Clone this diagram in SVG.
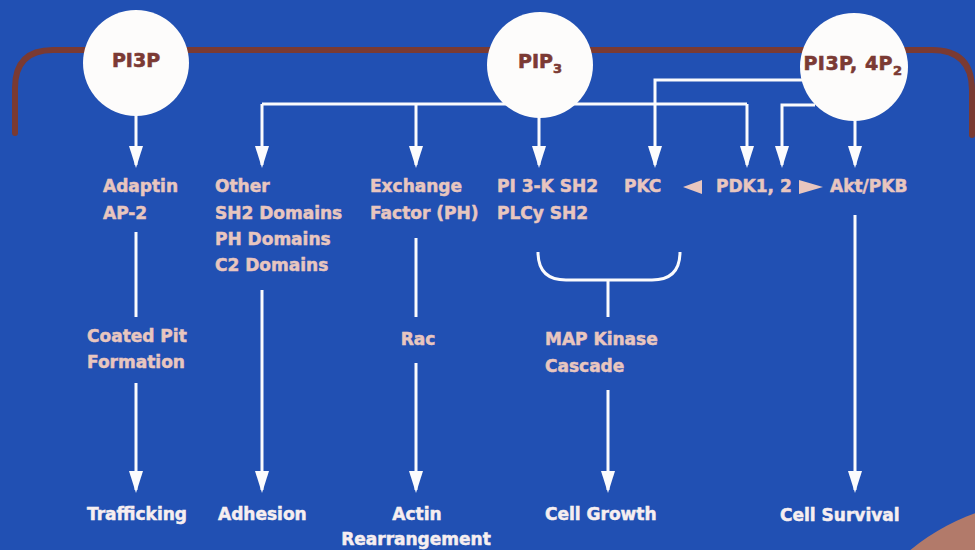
<svg xmlns="http://www.w3.org/2000/svg" width="975" height="550" viewBox="0 0 975 550">
<defs>
<style>
.bg{fill:#2150b3}
.mem{fill:none;stroke:#7a3a32;stroke-width:6;stroke-linecap:round}
.node circle{fill:#fdfcfb}
.ct{font-family:"DejaVu Sans",sans-serif;font-weight:bold;font-size:19px;fill:#7b3a34;stroke:#7b3a34;stroke-width:0.6;text-anchor:middle}
.sub{font-size:13px}
.lbl{font-family:"DejaVu Sans",sans-serif;font-weight:bold;font-size:17px;fill:#e8c6bf;stroke:#e8c6bf;stroke-width:0.5}
.out{font-family:"DejaVu Sans",sans-serif;font-weight:bold;font-size:17px;fill:#f6eef0;stroke:#f6eef0;stroke-width:0.5}
.ln{fill:none;stroke:#fbfbfd;stroke-width:3}
.ah{fill:#fbfbfd}
.tri{fill:#e8c6bf}
</style>
</defs>
<rect class="bg" x="0" y="0" width="975" height="550"/>
<circle cx="1050" cy="720" r="220" fill="#b27a6a"/>
<path class="mem" d="M15,133 V88 Q15,50 53,50 H932 Q972,50 972,90 V135"/>

<g id="connectors">
<path class="ln" d="M136,110 V165"/>
<path class="ln" d="M262,104 H747"/>
<path class="ln" d="M262,104 V165"/>
<path class="ln" d="M416,104 V165"/>
<path class="ln" d="M747,104 V165"/>
<path class="ln" d="M539,110 V165"/>
<path class="ln" d="M810,80 H655 V165"/>
<path class="ln" d="M815,105 H782 V165"/>
<path class="ln" d="M855,115 V165"/>
<path class="ln" d="M136,232 V317"/>
<path class="ln" d="M136,383 V490"/>
<path class="ln" d="M262,290 V490"/>
<path class="ln" d="M416,238 V317"/>
<path class="ln" d="M416,363 V490"/>
<path class="ln" d="M538,252 Q538,280 566,280 H652 Q680,280 680,252"/>
<path class="ln" d="M608,280 V317"/>
<path class="ln" d="M608,390 V490"/>
<path class="ln" d="M855,215 V490"/>
<g class="ah">
<polygon points="129,146 143,146 136,168"/>
<polygon points="255,146 269,146 262,168"/>
<polygon points="409,146 423,146 416,168"/>
<polygon points="532,146 546,146 539,168"/>
<polygon points="648,146 662,146 655,168"/>
<polygon points="740,146 754,146 747,168"/>
<polygon points="775,146 789,146 782,168"/>
<polygon points="848,146 862,146 855,168"/>
<polygon points="129,471 143,471 136,493"/>
<polygon points="255,471 269,471 262,493"/>
<polygon points="409,471 423,471 416,493"/>
<polygon points="601,471 615,471 608,493"/>
<polygon points="848,471 862,471 855,493"/>
</g>
</g>

<g id="pi3p" class="node"><circle cx="136" cy="63" r="53"/><text class="ct" x="136" y="67">PI3P</text></g>
<g id="pip3" class="node"><circle cx="540" cy="65" r="53"/><text class="ct" x="540" y="68">PIP<tspan class="sub" dy="5">3</tspan></text></g>
<g id="pi34p2" class="node"><circle cx="854" cy="67" r="54"/><text class="ct" x="853" y="70" letter-spacing="0.5">PI3P, 4P<tspan class="sub" dy="5">2</tspan></text></g>

<g id="adaptin"><text class="lbl" x="103" y="192">Adaptin</text><text class="lbl" x="103" y="219">AP-2</text></g>
<g id="other"><text class="lbl" x="215" y="192">Other</text><text class="lbl" x="215" y="219">SH2 Domains</text><text class="lbl" x="215" y="245">PH Domains</text><text class="lbl" x="215" y="271">C2 Domains</text></g>
<g id="exchange"><text class="lbl" x="370" y="192">Exchange</text><text class="lbl" x="370" y="219">Factor (PH)</text></g>
<g id="pi3k"><text class="lbl" x="497" y="192">PI 3-K SH2</text><text class="lbl" x="497" y="219">PLCy SH2</text></g>
<g id="pkc"><text class="lbl" x="624" y="192">PKC</text></g>
<g id="pdk"><polygon class="tri" points="683,187 702,180 702,194"/><text class="lbl" x="716" y="192">PDK1, 2</text><polygon class="tri" points="799,180 799,194 823,187"/></g>
<g id="akt"><text class="lbl" x="830" y="192">Akt/PKB</text></g>
<g id="coated"><text class="lbl" x="87" y="342">Coated Pit</text><text class="lbl" x="87" y="368">Formation</text></g>
<g id="rac"><text class="lbl" x="418" y="345" text-anchor="middle">Rac</text></g>
<g id="map"><text class="lbl" x="545" y="345">MAP Kinase</text><text class="lbl" x="545" y="372">Cascade</text></g>
<g id="trafficking"><text class="out" x="87" y="520">Trafficking</text></g>
<g id="adhesion"><text class="out" x="218" y="520">Adhesion</text></g>
<g id="actin"><text class="out" x="417" y="520" text-anchor="middle">Actin</text><text class="out" x="416" y="545" text-anchor="middle" font-size="16.5">Rearrangement</text></g>
<g id="growth"><text class="out" x="545" y="520">Cell Growth</text></g>
<g id="survival"><text class="out" x="780" y="521">Cell Survival</text></g>
</svg>
